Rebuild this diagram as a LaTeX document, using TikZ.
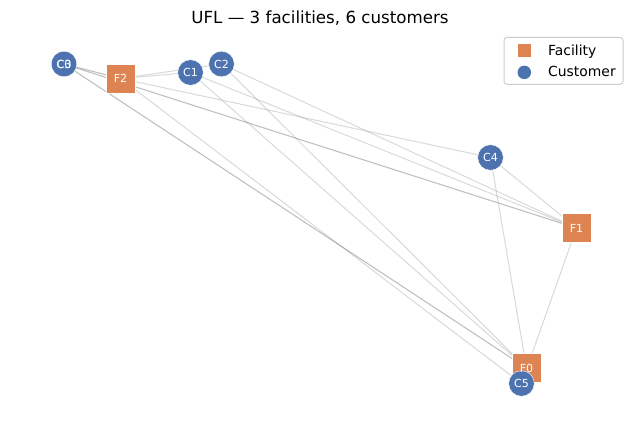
\documentclass[tikz,border=0pt]{standalone}
\usepackage{fontspec}
\setmainfont{DejaVu Sans}
\usetikzlibrary{backgrounds}
\definecolor{facor}{HTML}{DD8452}
\definecolor{cusbl}{HTML}{4C72B0}
\definecolor{legedge}{HTML}{CCCCCC}
\tikzset{
  facility/.style={rectangle, fill=facor, draw=white, line width=0.4pt, minimum size=29pt, inner sep=0pt},
  customer/.style={circle, fill=cusbl, draw=white, line width=0.4pt, minimum size=25.6pt, inner sep=0pt},
  lbl/.style={text=white, font=\fontsize{11.1}{13}\selectfont, inner sep=0pt},
  edge/.style={draw=gray, draw opacity=0.3, line width=1pt},
  legtext/.style={font=\fontsize{13.9}{16}\selectfont, anchor=base west, inner sep=0pt}
}
\begin{document}
\begin{tikzpicture}[x=1pt,y=-1pt]
\useasboundingbox (0,0) rectangle (640,426);
% facilities
\node[facility] (F0) at (526.5,368) {};
\node[facility] (F1) at (576.5,228) {};
\node[facility] (F2) at (120.5,78.5) {};
% customers
\node[customer] (C0) at (64,64) {};
\node[customer] (C1) at (190.5,72.5) {};
\node[customer] (C2) at (221.5,64) {};
\node[customer] (C3) at (64,64) {};
\node[customer] (C4) at (490.5,157.5) {};
\node[customer] (C5) at (521.5,383.5) {};
% edges
\begin{scope}[on background layer]
\foreach \c in {C0,C1,C2,C3,C4,C5}{
  \foreach \f in {F0,F1,F2}{
    \draw[edge] (\c.center) -- (\f.center);
  }
}
\end{scope}
% labels
\foreach \n in {F0,F1,F2,C0,C1,C2,C3,C4,C5}{
  \node[lbl] at (\n) {\n};
}
% title
\node[font=\fontsize{16.67}{20}\selectfont, anchor=base, inner sep=0pt] (title) at (320,23.3) {UFL — 3 facilities, 6 customers};
% legend
\node[draw=legedge, fill=white, fill opacity=0.8, draw opacity=1, line width=1pt, rounded corners=3pt, minimum width=119pt, minimum height=47pt, inner sep=0pt] (legend) at (563.5,60.8) {};
\node[rectangle, fill=facor, minimum size=13pt, inner sep=0pt] (lf) at (524.3,50.2) {};
\node[circle, fill=cusbl, minimum size=13.5pt, inner sep=0pt] (lc) at (524.3,72.4) {};
\node[legtext] (tf) at (548,55) {Facility};
\node[legtext] (tc) at (548,76.7) {Customer};
\end{tikzpicture}
\end{document}
